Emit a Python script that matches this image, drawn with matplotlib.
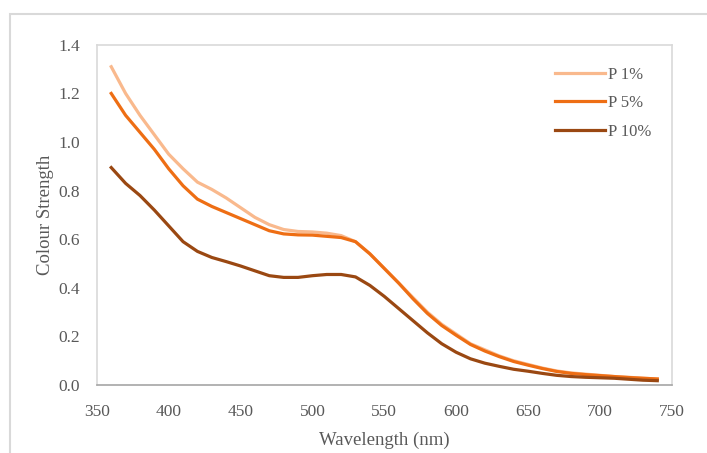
import matplotlib.pyplot as plt
from matplotlib.patches import Rectangle

wavelength = list(range(360, 750, 10))

p1 = [1.31, 1.20, 1.11, 1.03, 0.95, 0.89, 0.835, 0.805, 0.77, 0.73,
      0.69, 0.66, 0.64, 0.632, 0.630, 0.625, 0.615, 0.59, 0.54, 0.48,
      0.42, 0.36, 0.30, 0.25, 0.21, 0.17, 0.145, 0.12, 0.10, 0.085,
      0.07, 0.058, 0.05, 0.045, 0.04, 0.035, 0.032, 0.028, 0.025]
p5 = [1.20, 1.11, 1.04, 0.97, 0.89, 0.82, 0.765, 0.735, 0.71, 0.685,
      0.66, 0.635, 0.622, 0.618, 0.617, 0.612, 0.607, 0.59, 0.54, 0.48,
      0.42, 0.355, 0.295, 0.245, 0.205, 0.167, 0.14, 0.117, 0.097, 0.082,
      0.068, 0.056, 0.048, 0.043, 0.039, 0.035, 0.031, 0.028, 0.025]
p10 = [0.895, 0.83, 0.78, 0.72, 0.655, 0.59, 0.55, 0.525, 0.508, 0.49,
       0.47, 0.45, 0.443, 0.443, 0.45, 0.455, 0.455, 0.445, 0.41, 0.365,
       0.315, 0.265, 0.215, 0.17, 0.135, 0.108, 0.09, 0.077, 0.065, 0.057,
       0.048, 0.04, 0.035, 0.032, 0.03, 0.028, 0.024, 0.02, 0.018]

series = [('P 1%', p1, '#F9B98D'), ('P 5%', p5, '#EE6E14'), ('P 10%', p10, '#9A4812')]

plt.rcParams['font.family'] = ['Liberation Serif', 'DejaVu Serif']
text_col = '#595959'

fig = plt.figure(figsize=(7.07, 4.53), dpi=100)
fig.patches.append(Rectangle((0.014, -0.05), 1.2, 1.018, transform=fig.transFigure,
                             fill=False, edgecolor='#d9d9d9', linewidth=1.5))
ax = fig.add_axes([0.137, 0.150, 0.813, 0.751])

for label, vals, col in series:
    ax.plot(wavelength, vals, color=col, linewidth=2.3, label=label,
            solid_joinstyle='round')

ax.set_xlim(350, 750)
ax.set_ylim(0, 1.4)
ax.set_xticks(range(350, 751, 50))
ax.set_yticks([0, 0.2, 0.4, 0.6, 0.8, 1.0, 1.2, 1.4])
ax.set_yticklabels(['0.0', '0.2', '0.4', '0.6', '0.8', '1.0', '1.2', '1.4'])
ax.tick_params(length=0, labelsize=12.5, colors=text_col)
ax.tick_params(axis='x', pad=14)
ax.tick_params(axis='y', pad=12)

for side in ['top', 'right', 'left']:
    ax.spines[side].set_color('#d9d9d9')
    ax.spines[side].set_linewidth(1.2)
ax.spines['bottom'].set_color('#a6a6a6')
ax.spines['bottom'].set_linewidth(1.2)

ax.set_xlabel('Wavelength (nm)', fontsize=13.5, color=text_col, labelpad=8)
ax.set_ylabel('Colour Strength', fontsize=13.5, color=text_col, labelpad=3)

leg = ax.legend(loc='upper right', bbox_to_anchor=(0.99, 0.98), frameon=False,
                fontsize=12, handlelength=3.0, handletextpad=0.15, labelspacing=0.75)
for t in leg.get_texts():
    t.set_color(text_col)

fig.savefig('out.png', dpi=100)
